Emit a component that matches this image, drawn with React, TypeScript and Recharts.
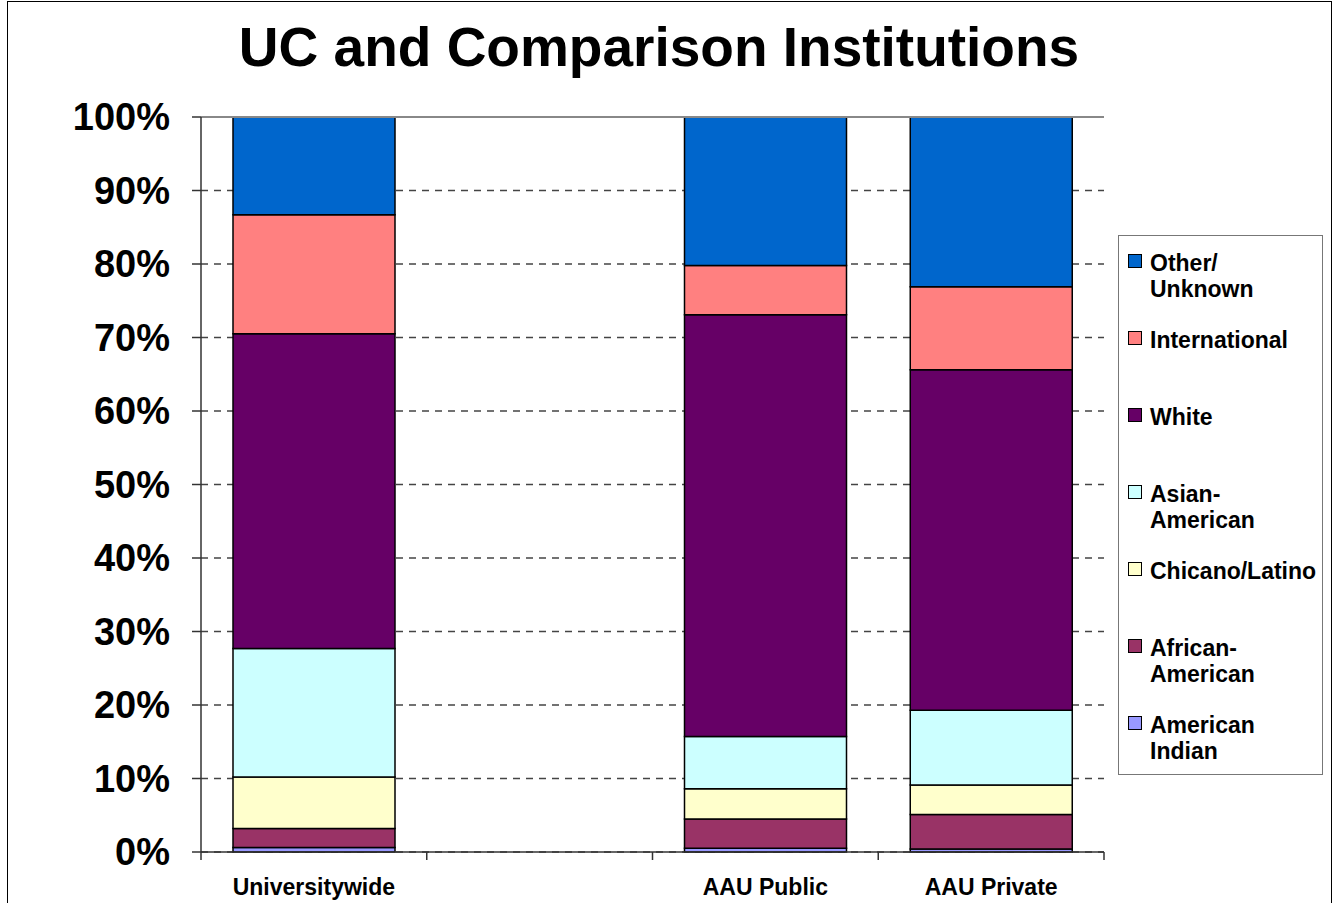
import { BarChart, Bar, XAxis, YAxis, CartesianGrid, ReferenceLine } from 'recharts';

const FONT = '"Liberation Sans", Arial, Helvetica, sans-serif';

// chart geometry (page pixels)
const W = 1335;
const H = 903;
const PLOT_LEFT = 201;
const PLOT_RIGHT = 1104;
const PLOT_TOP = 117;
const PLOT_BOTTOM = 852;

const categories = ['Universitywide', '', 'AAU Public', 'AAU Private'];

// percent of total, bottom of the stack first
const americanIndian = [0.6, null, 0.5, 0.4];
const africanAmerican = [2.6, null, 4.0, 4.7];
const chicanoLatino = [7.0, null, 4.1, 4.0];
const asianAmerican = [17.5, null, 7.1, 10.2];
const white = [42.8, null, 57.4, 46.3];
const international = [16.2, null, 6.7, 11.3];
const otherUnknown = [13.3, null, 20.2, 23.1];

const yTicks = [0, 10, 20, 30, 40, 50, 60, 70, 80, 90, 100];

const series = [
  { key: 'americanIndian', label: 'American\nIndian', color: '#9999FF', values: americanIndian },
  { key: 'africanAmerican', label: 'African-\nAmerican', color: '#993366', values: africanAmerican },
  { key: 'chicanoLatino', label: 'Chicano/Latino', color: '#FFFFCC', values: chicanoLatino },
  { key: 'asianAmerican', label: 'Asian-\nAmerican', color: '#CCFFFF', values: asianAmerican },
  { key: 'white', label: 'White', color: '#660066', values: white },
  { key: 'international', label: 'International', color: '#FF8080', values: international },
  { key: 'otherUnknown', label: 'Other/\nUnknown', color: '#0066CC', values: otherUnknown },
];

const data = categories.map((name, i) => {
  const row: any = { name };
  series.forEach((s) => {
    row[s.key] = s.values[i];
  });
  return row;
});

const BAND = (PLOT_RIGHT - PLOT_LEFT) / categories.length;

const CategoryTick = ({ x, y, payload, index }: any) => {
  const half = BAND / 2;
  return (
    <g>
      <line x1={x - half} x2={x - half} y1={y} y2={y + 8} stroke="#333" strokeWidth={1.5} />
      {index === categories.length - 1 && (
        <line x1={x + half} x2={x + half} y1={y} y2={y + 8} stroke="#333" strokeWidth={1.5} />
      )}
      <text
        x={x}
        y={y + 43}
        textAnchor="middle"
        fontFamily={FONT}
        fontWeight="bold"
        fontSize={23}
        fill="#000"
      >
        {payload.value}
      </text>
    </g>
  );
};

const ChartLegend = () => {
  const items = [...series].reverse();
  return (
    <div
      style={{
        position: 'absolute',
        left: 1118,
        top: 235,
        width: 205,
        height: 540,
        border: '1.5px solid #777',
        background: '#fff',
        fontFamily: FONT,
        fontWeight: 'bold',
        fontSize: 23,
        color: '#000',
        boxSizing: 'border-box',
      }}
    >
      {items.map((s, i) => (
        <div
          key={s.key}
          style={{ position: 'absolute', left: 0, top: 14 + i * 77, width: '100%' }}
        >
          <div
            style={{
              position: 'absolute',
              left: 9,
              top: 4,
              width: 12,
              height: 12,
              background: s.color,
              border: '1.5px solid #000',
            }}
          />
          <div
            style={{
              position: 'absolute',
              left: 31,
              top: 0,
              lineHeight: '26px',
              whiteSpace: 'pre',
              textAlign: 'left',
            }}
          >
            {s.label}
          </div>
        </div>
      ))}
    </div>
  );
};

export default function App() {
  return (
    <div
      style={{
        position: 'absolute',
        left: 0,
        top: 0,
        width: W,
        height: H,
        overflow: 'hidden',
        background: '#fff',
      }}
    >
      <div
        style={{
          position: 'absolute',
          left: 7,
          top: 1,
          width: 1325,
          height: 960,
          border: '1.5px solid #000',
          boxSizing: 'border-box',
        }}
      />
      <div
        style={{
          position: 'absolute',
          left: 0,
          top: 14,
          width: 1318,
          textAlign: 'center',
          fontFamily: FONT,
          fontWeight: 'bold',
          fontSize: 55,
          lineHeight: '66px',
          color: '#000',
        }}
      >
        UC and Comparison Institutions
      </div>
      <div style={{ position: 'absolute', left: 0, top: 0 }}>
        <BarChart
          width={W}
          height={H}
          data={data}
          barSize={162}
          margin={{ top: PLOT_TOP, right: W - PLOT_RIGHT, bottom: 0, left: 0 }}
        >
          <CartesianGrid
            vertical={false}
            stroke="#444"
            strokeWidth={1.3}
            strokeDasharray="7 6"
          />
          <XAxis
            dataKey="name"
            interval={0}
            tickLine={false}
            tickSize={0}
            tickMargin={0}
            height={H - PLOT_BOTTOM}
            axisLine={{ stroke: '#333', strokeWidth: 1.5 }}
            tick={<CategoryTick />}
          />
          <YAxis
            width={PLOT_LEFT}
            domain={[0, 100]}
            ticks={yTicks}
            interval={0}
            tickFormatter={(v: number) => `${v}%`}
            tickSize={9}
            tickMargin={22}
            axisLine={{ stroke: '#333', strokeWidth: 1.5 }}
            tickLine={{ stroke: '#333', strokeWidth: 1.5 }}
            tick={{ fill: '#000', fontFamily: FONT, fontWeight: 'bold', fontSize: 38 }}
          />
          <YAxis
            yAxisId="frame"
            orientation="right"
            width={0}
            domain={[0, 100]}
            tick={false}
            tickLine={false}
            axisLine={{ stroke: '#888', strokeWidth: 2 }}
          />
          <ReferenceLine y={100} stroke="#888" strokeWidth={2} />
          {series.map((s) => (
            <Bar
              key={s.key}
              dataKey={s.key}
              name={s.label}
              stackId="a"
              fill={s.color}
              stroke="#000"
              strokeWidth={1.5}
              isAnimationActive={false}
            />
          ))}
        </BarChart>
      </div>
      <ChartLegend />
    </div>
  );
}
